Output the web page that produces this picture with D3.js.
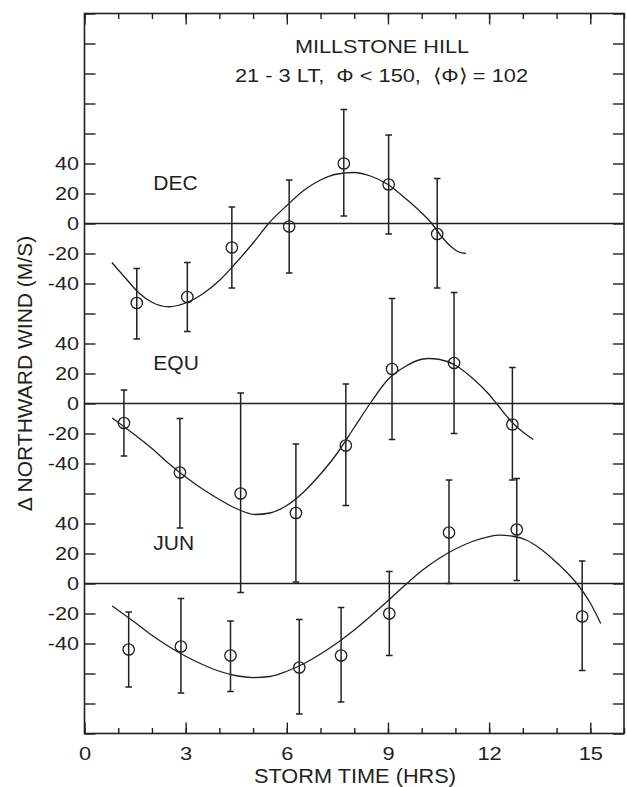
<!DOCTYPE html>
<html><head><meta charset="utf-8">
<script src="https://cdn.jsdelivr.net/npm/d3@7/dist/d3.min.js"></script>
<style>
body{margin:0;background:#fff}
svg{display:block}
text{font-family:"Liberation Sans",Arial,Helvetica,sans-serif;fill:#231f20}
</style>
</head><body>
<svg id="c" width="627" height="787"></svg>
<script>
// ---------------- data ----------------
const panelNames   = ["DEC", "EQU", "JUN"];
const panelOffsets = [240, 120, 0];           // stacking offset of each panel (M/S)
const yTickLabels  = [-40, -20, 0, 20, 40];   // labelled ticks in each panel
const xMajorTicks  = [0, 3, 6, 9, 12, 15];
const xMinorTicks  = d3.range(0, 17);

// DEC
const decT  = [1.55, 3.05, 4.37, 6.07, 7.69, 9.02, 10.46];
const decV  = [-53, -49, -16, -2, 40, 26, -7];
const decLo = [-77, -72, -43, -33, 5, -7, -43];
const decHi = [-30, -26, 11, 29, 76, 59, 30];
const decCurveT = [0.81, 1.2, 1.6, 2.0, 2.5, 3.0, 3.5, 4.0, 4.5, 5.0, 5.5, 6.0, 6.5, 7.0, 7.5, 8.0, 8.5, 9.0, 9.5, 10.0, 10.3, 10.6, 10.9, 11.1, 11.31];
const decCurveV = [-26, -36, -46, -52.5, -55.5, -53, -47, -38, -26, -13, 1, 12, 22, 29, 33, 34, 31.5, 26, 17, 7, 0, -9, -16, -19, -20];

// EQU
const equT  = [1.17, 2.83, 4.63, 6.27, 7.75, 9.12, 10.96, 12.69];
const equV  = [-13, -46, -60, -73, -28, 23, 27, -14];
const equLo = [-35, -83, -126, -119, -68, -24, -20, -51];
const equHi = [9, -10, 7, -27, 13, 70, 74, 24];
const equCurveT = [0.82, 1.5, 2.0, 2.5, 3.0, 3.5, 4.0, 4.5, 5.06, 5.5, 6.0, 6.5, 7.0, 7.5, 8.0, 8.5, 9.0, 9.5, 10.0, 10.2, 10.5, 11.0, 11.5, 12.0, 12.22, 12.7, 13.0, 13.31];
const equCurveV = [-9.6, -21, -30, -40, -49, -57, -64, -70, -74, -73, -68, -59, -47, -33, -16, 1, 16, 24.5, 29.5, 30, 29.5, 25.5, 17, 6, 0, -13, -19, -24];

// JUN
const junT  = [1.31, 2.86, 4.33, 6.37, 7.61, 9.04, 10.81, 12.82, 14.76];
const junV  = [-44, -42, -48, -56, -48, -20, 34, 36, -22];
const junLo = [-69, -73, -72, -87, -79, -48, 0, 2, -58];
const junHi = [-19, -10, -25, -24, -16, 8, 69, 70, 15];
const junCurveT = [0.82, 1.5, 2.0, 2.5, 3.0, 3.5, 4.0, 4.5, 5.0, 5.5, 6.0, 6.5, 7.0, 7.5, 8.0, 8.5, 9.0, 9.56, 10.0, 10.5, 11.0, 11.5, 12.0, 12.32, 12.7, 13.1, 13.5, 14.0, 14.3, 14.6, 15.0, 15.31];
const junCurveV = [-14.9, -26, -34.5, -42, -48.5, -54, -58.5, -61.5, -62.7, -62, -58.5, -53.5, -47, -39.5, -31, -21.5, -11.5, 0, 8.5, 16.5, 23, 28, 31.3, 32.2, 31.5, 29, 23.5, 14, 7.5, 0, -13, -26.7];

const series = [
  {t: decT, v: decV, lo: decLo, hi: decHi, ct: decCurveT, cv: decCurveV},
  {t: equT, v: equV, lo: equLo, hi: equHi, ct: equCurveT, cv: equCurveV},
  {t: junT, v: junV, lo: junLo, hi: junHi, ct: junCurveT, cv: junCurveV}
];

const titleLine1 = "MILLSTONE HILL";
const titleLine2 = "21 - 3 LT,  \u03A6 < 150,  \u27E8\u03A6\u27E9 = 102";
const xTitle = "STORM TIME (HRS)";
const yTitle = "\u0394 NORTHWARD WIND (M/S)";

// ---------------- layout ----------------
const L = 84.5, R = 624, T = 13.5, B = 733.5;
const ink = "#231f20";
const x = d3.scaleLinear().domain([0, 16]).range([L, R]);
const y = d3.scaleLinear().domain([-100, 380]).range([B, T]);
const svg = d3.select("#c");

const yTickVals = d3.range(-100, 381, 20);
function yLabel(v) {
  for (let i = 0; i < panelOffsets.length; i++) {
    const d = v - panelOffsets[i];
    if (yTickLabels.includes(d)) return String(d);
  }
  return "";
}

function styleAxis(g) {
  g.select(".domain").remove();
  g.selectAll(".tick line").attr("stroke", ink).attr("stroke-width", 1.4);
}

// zero lines
panelOffsets.forEach(o => {
  svg.append("line").attr("x1", x(0)).attr("x2", x(16))
    .attr("y1", y(o)).attr("y2", y(o))
    .attr("stroke", ink).attr("stroke-width", 1.3);
});

// minor x ticks (bottom & top)
svg.append("g").attr("transform", `translate(0,${B})`)
  .call(d3.axisBottom(x).tickValues(xMinorTicks).tickSize(-5.5).tickSizeOuter(0).tickFormat(""))
  .call(styleAxis);
svg.append("g").attr("transform", `translate(0,${T})`)
  .call(d3.axisTop(x).tickValues(xMinorTicks).tickSize(-5.5).tickSizeOuter(0).tickFormat(""))
  .call(styleAxis);

// major x ticks with labels
const xb = svg.append("g").attr("transform", `translate(0,${B})`)
  .call(d3.axisBottom(x).tickValues(xMajorTicks).tickSize(-11).tickSizeOuter(0).tickFormat(d3.format("d")))
  .call(styleAxis);
xb.attr("font-size", 19).attr("font-family", null);
xb.selectAll(".tick text").attr("fill", ink).attr("y", 27).attr("dy", null)
  .attr("transform", "scale(1.15,1)");
svg.append("g").attr("transform", `translate(0,${T})`)
  .call(d3.axisTop(x).tickValues(xMajorTicks).tickSize(-11).tickSizeOuter(0).tickFormat(""))
  .call(styleAxis);

// y ticks
const yl = svg.append("g").attr("transform", `translate(${L},0)`)
  .call(d3.axisLeft(y).tickValues(yTickVals).tickSize(-11).tickSizeOuter(0).tickFormat(yLabel))
  .call(styleAxis);
yl.attr("font-size", 18).attr("font-family", null);
yl.selectAll(".tick text").attr("fill", ink).attr("x", null).attr("dy", "0.36em")
  .attr("transform", "translate(-5.5,0) scale(1.2,1)");
svg.append("g").attr("transform", `translate(${R},0)`)
  .call(d3.axisRight(y).tickValues(yTickVals).tickSize(-11).tickSizeOuter(0).tickFormat(""))
  .call(styleAxis);

// frame
svg.append("rect").attr("x", L).attr("y", T).attr("width", R - L).attr("height", B - T)
  .attr("fill", "none").attr("stroke", ink).attr("stroke-width", 1.6);

// series
const line = d3.line().curve(d3.curveMonotoneX);
series.forEach((s, i) => {
  const o = panelOffsets[i];
  const g = svg.append("g");
  const cpts = s.ct.map((t, j) => [x(t), y(s.cv[j] + o)]);
  g.append("path").attr("d", line(cpts)).attr("fill", "none")
    .attr("stroke", ink).attr("stroke-width", 1.3);
  s.t.forEach((t, j) => {
    const cx = x(t);
    g.append("line").attr("x1", cx).attr("x2", cx)
      .attr("y1", y(s.lo[j] + o)).attr("y2", y(s.hi[j] + o))
      .attr("stroke", ink).attr("stroke-width", 1.5);
    [s.lo[j], s.hi[j]].forEach(e => {
      g.append("line").attr("x1", cx - 3.3).attr("x2", cx + 3.3)
        .attr("y1", y(e + o)).attr("y2", y(e + o))
        .attr("stroke", ink).attr("stroke-width", 1.5);
    });
    g.append("circle").attr("cx", cx).attr("cy", y(s.v[j] + o)).attr("r", 5.7)
      .attr("fill", "none").attr("stroke", ink).attr("stroke-width", 1.3);
  });
  svg.append("text").attr("x", 153.3).attr("y", y(o) - 34)
    .attr("font-size", 21).text(panelNames[i]);
});

// titles
svg.append("text").attr("x", 382).attr("y", 53.3).attr("text-anchor", "middle")
  .attr("font-size", 18.6).attr("textLength", 174).attr("lengthAdjust", "spacingAndGlyphs")
  .text(titleLine1);
svg.append("text").attr("x", 381.5).attr("y", 81.5).attr("text-anchor", "middle")
  .attr("font-size", 18.6).attr("textLength", 293).attr("lengthAdjust", "spacingAndGlyphs")
  .style("white-space", "pre").text(titleLine2);

// axis titles
svg.append("text").attr("x", 355).attr("y", 782.5).attr("text-anchor", "middle")
  .attr("font-size", 20).attr("textLength", 202).attr("lengthAdjust", "spacingAndGlyphs")
  .text(xTitle);
svg.append("text").attr("transform", "translate(31.7,373.5) rotate(-90)")
  .attr("text-anchor", "middle").attr("font-size", 21).text(yTitle);
</script>
</body></html>
